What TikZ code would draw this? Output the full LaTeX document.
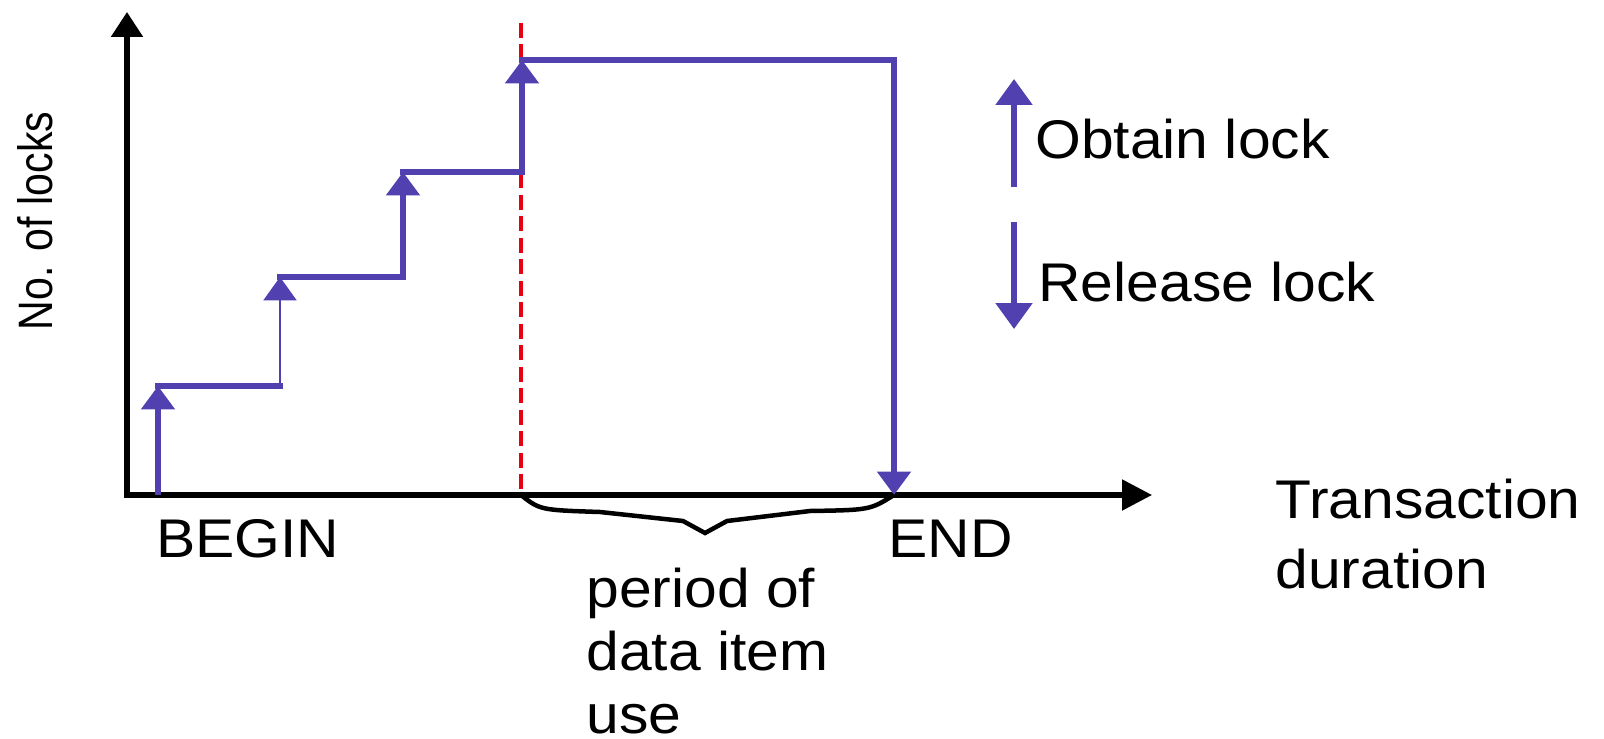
\documentclass[tikz,border=0pt]{standalone}
\usepackage{fontspec}
\setmainfont{Liberation Sans}[FakeStretch=1.08]
\newfontfamily\axisfont{Liberation Sans}[FakeStretch=0.85]
\usepackage{xcolor}
\usepackage{tikz}
\usetikzlibrary{arrows.meta}
\definecolor{lockblue}{RGB}{80,64,176}
\definecolor{lockred}{RGB}{230,0,18}

\begin{document}
\begin{tikzpicture}[x=0.02cm, y=-0.02cm,
                    every node/.style={inner sep=0pt, font=\fontsize{31}{37}\selectfont},
                    axis/.style={line width=0.106cm, black, line join=miter},
                    lockline/.style={line width=0.11cm, lockblue},
                    lockarrow/.style={-{Triangle[length=0.47cm, width=0.66cm]}},
                    legendarrow/.style={-{Triangle[length=0.52cm, width=0.72cm]}}]
\useasboundingbox (0,0) rectangle (1604,739);
% axes
\coordinate (ytip) at (127,12);
\coordinate (o) at (127,495);
\coordinate (xtip) at (1152,495);
% corners of the lock steps
\coordinate (s0) at (158,495);
\coordinate (s1) at (158,386);
\coordinate (s1r) at (280,386);
\coordinate (s2) at (280,277);
\coordinate (s2r) at (403,277);
\coordinate (s3) at (403,172);
\coordinate (s3r) at (522,172);
\coordinate (s4) at (522,60);
\coordinate (s4r) at (894,60);
\coordinate (e) at (894,495);
\coordinate (lptop) at (521,23);
\coordinate (lp) at (521,495);
% legend
\coordinate (ob1) at (1014,187);
\coordinate (ob2) at (1014,79);
\coordinate (re1) at (1014,222);
\coordinate (re2) at (1014,329);

\draw[axis, {Triangle[length=0.5cm, width=0.62cm]}-{Triangle[length=0.6cm, width=0.6cm]}]
      (ytip) -- (o) -- (xtip);
\draw[lockred, line width=0.074cm, dash pattern=on 0.3cm off 0.13cm] (lptop) -- (lp);

\foreach \from/\to/\next in {s0/s1/s1r, s2r/s3/s3r, s3r/s4/s4r}
{
  \draw[lockline, lockarrow] (\from) -- (\to);
  \draw[lockline, line cap=rect] (\to) -- (\next);
}
\draw[lockline, line width=0.054cm, lockarrow] (s1r) -- (s2);
\draw[lockline, line cap=rect] (s2) -- (s2r);
\draw[lockline, lockarrow] (s4r) -- (e);

% brace under the x axis
\draw[line width=0.09cm] (lp) .. controls (540,510) .. (600,512) -- (683,521) -- (705,533)
      -- (727,521) -- (810,511) .. controls (870,510) .. (e);

\draw[lockline, legendarrow] (ob1) -- (ob2);
\draw[lockline, legendarrow] (re1) -- (re2);

\node[anchor=base west] (obtain) at (1035,159) {Obtain lock};
\node[anchor=base west] (release) at (1038,302) {Release lock};
\node[anchor=base west] (beginlbl) at (156,557) {BEGIN};
\node[anchor=base west] (endlbl) at (888,557) {END};
\node[anchor=base west, align=left, font=\fontsize{31}{39.3}\selectfont] (duration) at (1275,588)
      {Transaction\\duration};
\node[anchor=base west, align=left, font=\fontsize{31}{35.8}\selectfont] (period) at (586,733)
      {period of\\data item\\use};
\node[rotate=90, anchor=base, font=\axisfont\fontsize{27.5}{33}\selectfont] (nlocks) at (52,221)
      {No. of locks};
\end{tikzpicture}
\end{document}
